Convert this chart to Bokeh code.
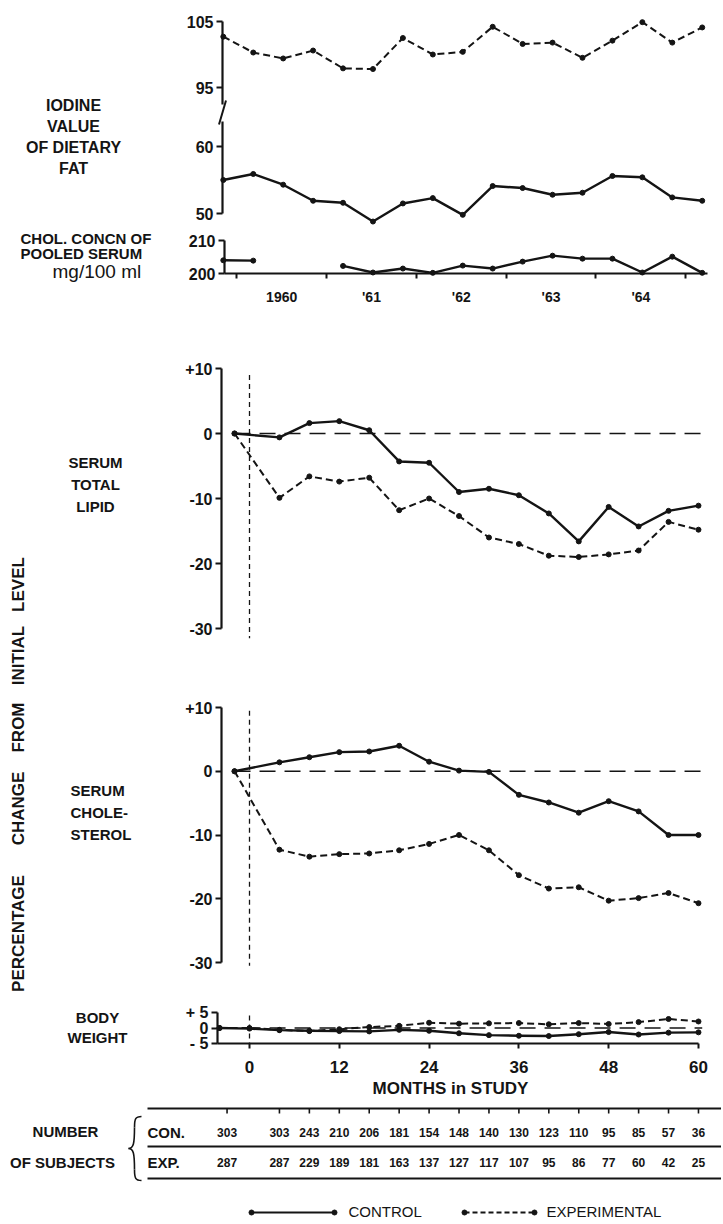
import math
from bokeh.plotting import figure
from bokeh.models import Range1d, LinearAxis, FixedTicker
from bokeh.core.properties import value
from bokeh.embed import file_html
from bokeh.resources import INLINE

NAN = float("nan")

# ---------------- data ----------------
iodine_months = [-3.5, 0.5, 4.5, 8.5, 12.5, 16.5, 20.5, 24.5, 28.5, 32.5,
                 36.5, 40.5, 44.5, 48.5, 52.5, 56.5, 60.5]
iodine_experimental = [102.7, 100.3, 99.4, 100.6, 97.9, 97.8, 102.5, 100.0, 100.4,
                       104.2, 101.6, 101.8, 99.5, 102.1, 104.9, 101.8, 104.1]
iodine_control = [55.0, 55.9, 54.3, 51.9, 51.6, 48.8, 51.5, 52.3, 49.8,
                  54.1, 53.8, 52.8, 53.1, 55.6, 55.4, 52.4, 51.9]

pooled_months = [-3.5, 0.5, 4.5, 12.5, 16.5, 20.5, 24.5, 28.5, 32.5, 36.5,
                 40.5, 44.5, 48.5, 52.5, 56.5, 60.5]
pooled_serum_chol = [204.0, 203.9, NAN, 202.3, 200.3, 201.5, 200.2, 202.4, 201.5,
                     203.6, 205.4, 204.5, 204.5, 200.3, 205.1, 200.2]

study_months = [-2, 4, 8, 12, 16, 20, 24, 28, 32, 36, 40, 44, 48, 52, 56, 60]
lipid_control = [0, -0.6, 1.6, 1.9, 0.5, -4.3, -4.5, -9.0, -8.5, -9.5,
                 -12.3, -16.6, -11.3, -14.3, -11.9, -11.1]
lipid_experimental = [0, -9.9, -6.6, -7.4, -6.8, -11.8, -10.0, -12.7, -16.0, -17.0,
                      -18.8, -19.0, -18.6, -18.0, -13.6, -14.8]
chol_control = [0, 1.4, 2.2, 3.0, 3.1, 4.0, 1.5, 0.1, -0.1, -3.7,
                -4.9, -6.5, -4.7, -6.3, -10.0, -10.0]
chol_experimental = [0, -12.3, -13.4, -13.0, -12.9, -12.4, -11.4, -10.0, -12.4, -16.3,
                     -18.4, -18.2, -20.3, -19.9, -19.1, -20.7]

weight_months = [-4, 0, 4, 8, 12, 16, 20, 24, 28, 32, 36, 40, 44, 48, 52, 56, 60]
weight_control = [0, -0.2, -0.7, -0.9, -1.0, -1.1, -0.6, -0.9, -1.7, -2.3,
                  -2.5, -2.6, -2.0, -1.3, -2.1, -1.5, -1.4]
weight_experimental = [0, 0, -0.6, -1.0, -0.4, 0.3, 0.7, 1.7, 1.4, 1.5,
                       1.6, 1.2, 1.6, 1.3, 1.9, 2.9, 2.1]

month_ticks = [0, 12, 24, 36, 48, 60]
year_labels = ["1960", "'61", "'62", "'63", "'64"]
year_label_months = [4.3, 16.3, 28.3, 40.3, 52.3]
year_tick_months = [-1.7, 10.3, 22.3, 34.3, 46.3, 58.3]

table_months = [-3, 4, 8, 12, 16, 20, 24, 28, 32, 36, 40, 44, 48, 52, 56, 60]
subjects_control = [303, 303, 243, 210, 206, 181, 154, 148, 140, 130, 123, 110, 95, 85, 57, 36]
subjects_experimental = [287, 287, 229, 189, 181, 163, 137, 127, 117, 107, 95, 86, 77, 60, 42, 25]

# ---------------- layout ----------------
INK = "#141414"
FONT = "Liberation Sans"
W, H = 721, 1222
LEFT, TOP = 0, 0
M0_PX, PX_PER_MONTH = 249.0, 7.483


def mx(px):
    return (px - M0_PX) / PX_PER_MONTH


def panel_range(v1, p1, v2, p2):
    k = (v1 - v2) / (p2 - p1)
    return Range1d(start=v1 - (TOP + H - p1) * k, end=v1 + (p1 - TOP) * k)


p = figure(width=W, height=H, x_range=Range1d(mx(LEFT), mx(LEFT + W)),
           y_range=Range1d(TOP + H, TOP), x_axis_type=None, y_axis_type=None,
           toolbar_location=None, output_backend="svg", outline_line_color=None,
           background_fill_color="white", border_fill_color="white")
p.min_border_left = p.min_border_right = p.min_border_top = p.min_border_bottom = 0
p.extra_x_ranges = {"px": Range1d(LEFT, LEFT + W)}
p.extra_y_ranges = {
    "iod_hi": panel_range(105, 21, 95, 87),
    "iod_lo": panel_range(60, 146, 50, 213),
    "pool": panel_range(210, 240, 200, 273),
    "lipid": panel_range(10, 368, -30, 628),
    "chol": panel_range(10, 707, -30, 962),
    "wt": panel_range(5, 1012, -5, 1043),
}


def style_axis(ax, size="16px"):
    ax.axis_line_color = INK
    ax.axis_line_width = 2.2
    ax.major_tick_line_color = INK
    ax.major_tick_line_width = 2
    ax.major_tick_out = 6
    ax.major_tick_in = 0
    ax.minor_tick_out = 0
    ax.minor_tick_in = 0
    ax.major_label_text_font = FONT
    ax.major_label_text_font_style = "bold"
    ax.major_label_text_font_size = size
    ax.major_label_text_color = INK
    ax.major_label_standoff = 3


def vaxis(yr, xloc, ticks, bounds, overrides):
    ax = LinearAxis(y_range_name=yr, fixed_location=xloc, bounds=bounds,
                    ticker=FixedTicker(ticks=ticks), major_label_overrides=overrides)
    style_axis(ax)
    p.add_layout(ax, "left")


def series(xs, ys, yr, dashed):
    kw = dict(line_color=INK, y_range_name=yr, line_join="round")
    if dashed:
        p.line(xs, ys, line_width=2.0, line_dash="7 4", **kw)
    else:
        p.line(xs, ys, line_width=2.4, **kw)
    p.scatter(xs, ys, size=5, color=INK, y_range_name=yr)


def txt(xs, ys, texts, size, bold=True, align="center", angle=0.0, xr="px"):
    kw = dict(text_font=value(FONT), text_font_size=f"{size}px",
              text_font_style="bold" if bold else "normal",
              text_align=align, text_baseline="middle", text_color=INK, angle=angle)
    if xr:
        kw["x_range_name"] = xr
    p.text(x=xs, y=ys, text=texts, **kw)


# ---- iodine value panel (broken axis) ----
vaxis("iod_hi", mx(222), [95, 105], (92.4, 105), {95: "95", 105: "105"})
vaxis("iod_lo", mx(222), [50, 60], (50, 63.7), {50: "50", 60: "60"})
p.segment(x0=[225.5], y0=[100], x1=[218.5], y1=[124], x_range_name="px",
          line_color=INK, line_width=2)
series(iodine_months, iodine_experimental, "iod_hi", True)
series(iodine_months, iodine_control, "iod_lo", False)
txt([73] * 4, [105, 126, 147, 168], ["IODINE", "VALUE", "OF DIETARY", "FAT"], 16)

# ---- pooled serum cholesterol panel ----
vaxis("pool", mx(224), [200, 210], (200, 210), {200: "200", 210: "210"})
ax = LinearAxis(y_range_name="pool", fixed_location=200, bounds=(mx(224), mx(707)),
                ticker=FixedTicker(ticks=year_label_months, minor_ticks=year_tick_months),
                major_label_overrides=dict(zip(year_label_months, year_labels)))
style_axis(ax, "14px")
ax.major_tick_out = 0
ax.major_tick_line_color = None
ax.minor_tick_out = 5
ax.minor_tick_in = 0
ax.minor_tick_line_color = INK
ax.minor_tick_line_width = 2
ax.major_label_standoff = 10
p.add_layout(ax, "below")
series(pooled_months, pooled_serum_chol, "pool", False)
txt([20, 20], [238, 253], ["CHOL. CONCN OF", "POOLED SERUM"], 15, align="left")
txt([52], [271], ["mg/100 ml"], 19, bold=False, align="left")

# ---- serum total lipid ----
pct = {10: "+10", 0: "0", -10: "-10", -20: "-20", -30: "-30"}
vaxis("lipid", mx(221), [-30, -20, -10, 0, 10], (-30, 10), pct)
p.segment(x0=[study_months[0]], y0=[0], x1=[61], y1=[0], y_range_name="lipid",
          line_color=INK, line_width=1.6, line_dash="16 9")
p.segment(x0=[0], y0=[9], x1=[0], y1=[-31.5], y_range_name="lipid",
          line_color=INK, line_width=1.3, line_dash="5 4")
series(study_months, lipid_control, "lipid", False)
series(study_months, lipid_experimental, "lipid", True)
txt([95] * 3, [462, 484, 506], ["SERUM", "TOTAL", "LIPID"], 15)

# ---- serum cholesterol ----
vaxis("chol", mx(221), [-30, -20, -10, 0, 10], (-30, 10), pct)
p.segment(x0=[study_months[0]], y0=[0], x1=[61], y1=[0], y_range_name="chol",
          line_color=INK, line_width=1.6, line_dash="16 9")
p.segment(x0=[0], y0=[9.5], x1=[0], y1=[-30.5], y_range_name="chol",
          line_color=INK, line_width=1.3, line_dash="5 4")
series(study_months, chol_control, "chol", False)
series(study_months, chol_experimental, "chol", True)
txt([70] * 3, [790, 812, 834], ["SERUM", "CHOLE-", "STEROL"], 15, align="left")

# ---- body weight ----
vaxis("wt", mx(217), [-5, 0, 5], (-5, 5), {5: "+ 5", 0: "0", -5: "- 5"})
axm = LinearAxis(y_range_name="wt", fixed_location=-5, bounds=(mx(217), 60),
                 ticker=FixedTicker(ticks=month_ticks))
style_axis(axm, "17px")
axm.major_tick_out = 5
axm.major_label_standoff = 12
p.add_layout(axm, "below")
p.segment(x0=[weight_months[0]], y0=[0], x1=[60.5], y1=[0], y_range_name="wt",
          line_color=INK, line_width=1.6, line_dash="16 9")
p.segment(x0=[0], y0=[4], x1=[0], y1=[-5], y_range_name="wt",
          line_color=INK, line_width=1.3, line_dash="5 4")
series(weight_months, weight_control, "wt", False)
series(weight_months, weight_experimental, "wt", True)
txt([97, 97], [1017, 1037], ["BODY", "WEIGHT"], 15)
txt([450], [1088], ["MONTHS in STUDY"], 17)

# ---- vertical y title ----
words = ["PERCENTAGE", "CHANGE", "FROM", "INITIAL", "LEVEL"]
txt([18] * 5, [933, 808, 727, 655, 584], words, 17, angle=math.pi / 2)

# ---- number of subjects table ----
p.segment(x0=[147, 147, 147], y0=[1108, 1146, 1178], x1=[721, 721, 721], y1=[1108, 1146, 1178],
          x_range_name="px", line_color=INK, line_width=2)
p.segment(x0=table_months, y0=[1108] * len(table_months), x1=table_months,
          y1=[1113] * len(table_months), line_color=INK, line_width=1.6)
txt(table_months, [1132] * len(table_months), [str(v) for v in subjects_control], 12, xr=None)
txt(table_months, [1162] * len(table_months), [str(v) for v in subjects_experimental], 12, xr=None)
txt([147, 147], [1132, 1162], ["CON.", "EXP."], 15, align="left")
txt([65, 62], [1131, 1162], ["NUMBER", "OF SUBJECTS"], 15)
# brace
p.bezier(x0=[141, 134, 128, 134], y0=[1116, 1127, 1148, 1169],
         x1=[134, 128, 134, 141], y1=[1127, 1148, 1169, 1180],
         cx0=[135, 134, 133, 134], cy0=[1116, 1143, 1148, 1178],
         cx1=[134, 133, 134, 135], cy1=[1118, 1148, 1153, 1180],
         x_range_name="px", line_color=INK, line_width=1.6)

# ---- legend ----
p.line(x=[251, 334], y=[1212, 1212], x_range_name="px", line_color=INK, line_width=2.2)
p.scatter(x=[251, 334], y=[1212, 1212], x_range_name="px", size=5, color=INK)
p.line(x=[464, 534], y=[1212, 1212], x_range_name="px", line_color=INK, line_width=1.8,
       line_dash="5 3")
p.scatter(x=[464, 534], y=[1212, 1212], x_range_name="px", size=5, color=INK)
txt([348, 546], [1211, 1211], ["CONTROL", "EXPERIMENTAL"], 15, bold=False, align="left")

open("out.html", "w").write(file_html(p, INLINE))
